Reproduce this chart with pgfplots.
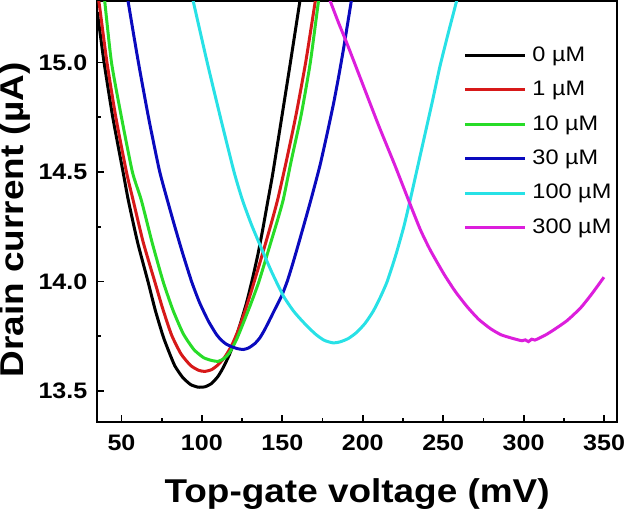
\documentclass[border=0pt]{standalone}
\usepackage{fontspec}
\setmainfont[FakeStretch=1.12]{Liberation Sans}
\usepackage{pgfplots}
\pgfplotsset{compat=1.18}
\definecolor{cRed}{RGB}{215,25,25}
\definecolor{cGreen}{RGB}{40,220,40}
\definecolor{cBlue}{RGB}{10,10,190}
\definecolor{cCyan}{RGB}{40,225,230}
\definecolor{cMag}{RGB}{220,30,220}
\begin{document}
\begin{tikzpicture}
\begin{axis}[
  scale only axis,
  width=260pt, height=210.5pt,
  xmin=35, xmax=358, ymin=13.36, ymax=15.28,
  xtick={50,100,150,200,250,300,350},
  ytick={13.5,14.0,14.5,15.0},
  minor x tick num=1, minor y tick num=1,
  tick align=inside,
  xtick pos=left, ytick pos=left,
  major tick length=3.5pt, minor tick length=2pt,
  axis line style={line width=1.1pt},
  every tick/.style={line width=0.9pt, black},
  /pgf/number format/assume math mode=true,
  ticklabel style={font=\bfseries\fontsize{11.2}{13}\selectfont, inner sep=0pt},
  xticklabel style={anchor=north, yshift=-6.1pt},
  yticklabel style={/pgf/number format/fixed, /pgf/number format/fixed zerofill, /pgf/number format/precision=1, anchor=east, xshift=-4.8pt},
  xlabel={Top-gate voltage (mV)},
  ylabel={Drain current (µA)},
  label style={font=\bfseries\fontsize{16.5}{19}\selectfont, inner sep=0pt},
  xlabel style={at={(axis description cs:0.5,-0.171)}, anchor=center},
  ylabel style={at={(axis description cs:-0.1577,0.48)}, anchor=center},
  legend style={draw=none, fill=none, at={(rel axis cs:0.704,0.902)}, anchor=north west,
    font=\fontsize{10.5}{12.5}\selectfont, row sep=4.4pt, inner sep=0pt, column sep=1pt},
  legend cell align=left,
  legend image code/.code={\draw[#1, line width=1.5pt] (0pt,0pt) -- (30pt,0pt);},
  every axis plot/.append style={line width=1.5pt, smooth, tension=0.35},
]
% 0 uM
\addplot[black] coordinates {
(35,15.23) (39.2,15.0) (44.6,14.75) (51,14.5) (54.3,14.37) (60,14.18) (66.5,14.0) (71,13.87) (75.9,13.75) (79.5,13.68) (83.2,13.615) (88,13.563) (93,13.53) (97.7,13.518) (102,13.52) (106,13.535) (110,13.567) (113.3,13.608) (117,13.665) (120.5,13.73) (124,13.81) (127.8,13.905) (131.5,14.015) (135,14.13) (138,14.245) (140.8,14.36) (144,14.49) (149,14.72) (154.6,14.98) (160.5,15.26) (162.5,15.36)
};
\addlegendentry{0 µM}
% 1 uM
\addplot[cRed] coordinates {
(35.5,15.3) (36.5,15.25) (41,15.0) (46.5,14.75) (53.1,14.5) (57.3,14.37) (63.5,14.18) (70.7,14.0) (75.5,13.88) (81.1,13.757) (87,13.67) (93,13.617) (98,13.595) (101.8,13.59) (106,13.598) (110,13.62) (114.2,13.655) (118.5,13.708) (122.6,13.778) (126.8,13.865) (130.9,13.96) (135,14.06) (139.2,14.165) (143.3,14.27) (147.3,14.38) (152.5,14.55) (158.5,14.76) (164.5,15.0) (170.5,15.28) (172.5,15.36)
};
\addlegendentry{1 µM}
% 10 uM
\addplot[cGreen] coordinates {
(39,15.32) (39.6,15.28) (43.8,15.0) (50,14.75) (56.8,14.5) (62.4,14.37) (69,14.18) (75.9,14.0) (82,13.87) (88.4,13.762) (95,13.69) (101,13.653) (106,13.64) (110.1,13.636) (114,13.65) (117.4,13.678) (121.5,13.735) (125.7,13.81) (130.5,13.9) (135,13.99) (139,14.085) (143.3,14.19) (147,14.28) (150.6,14.375) (155.5,14.55) (161.7,14.76) (167.4,15.0) (172.5,15.28) (174.5,15.36)
};
\addlegendentry{10 µM}
% 30 uM
\addplot[cBlue] coordinates {
(53,15.34) (54.1,15.28) (60.3,15.01) (66.8,14.75) (73.5,14.51) (78.6,14.37) (83.2,14.25) (88,14.13) (93.6,14.0) (98.5,13.905) (104,13.82) (109.1,13.758) (112.2,13.732) (115,13.715) (118.4,13.703) (122,13.694) (125.7,13.69) (129,13.697) (132.9,13.717) (136,13.743) (139,13.78) (142.3,13.828) (145.5,13.875) (149.6,13.935) (153,14.0) (156,14.07) (159,14.145) (162,14.222) (165,14.3) (168.2,14.385) (173.4,14.53) (178,14.68) (181.9,14.815) (185,14.935) (188.1,15.065) (192.2,15.25) (193.5,15.31)
};
\addlegendentry{30 µM}
% 100 uM
\addplot[cCyan] coordinates {
(93.5,15.32) (94.6,15.28) (103.3,15.0) (111.5,14.75) (120,14.5) (125.3,14.37) (130.8,14.26) (136.8,14.155) (143.3,14.045) (150.6,13.935) (157,13.865) (163,13.815) (170.3,13.762) (176,13.732) (181.7,13.72) (186,13.725) (191,13.74) (196.2,13.768) (201.5,13.81) (206.6,13.866) (211,13.93) (214.9,13.995) (218,14.062) (221.1,14.135) (225.5,14.25) (229.4,14.37) (234,14.52) (238.6,14.67) (243.5,14.83) (247.9,14.98) (253,15.13) (258.3,15.28) (260,15.34)
};
\addlegendentry{100 µM}
% 300 uM
\addplot[cMag] coordinates {
(178.5,15.31) (179.8,15.28) (185,15.18) (190,15.09) (200,14.90) (210,14.71) (220,14.53) (229.6,14.35) (235.9,14.235) (242,14.143) (250.4,14.035) (257.5,13.955) (264.9,13.885) (272,13.828) (279.4,13.785) (286,13.757) (293,13.741) (296,13.735) (299,13.73) (301,13.734) (303,13.726) (305,13.737) (307,13.733) (310,13.743) (314,13.758) (318.8,13.78) (327,13.822) (335.4,13.88) (342.5,13.945) (349.9,14.02)
};
\addlegendentry{300 µM}
\end{axis}
\end{tikzpicture}
\end{document}
